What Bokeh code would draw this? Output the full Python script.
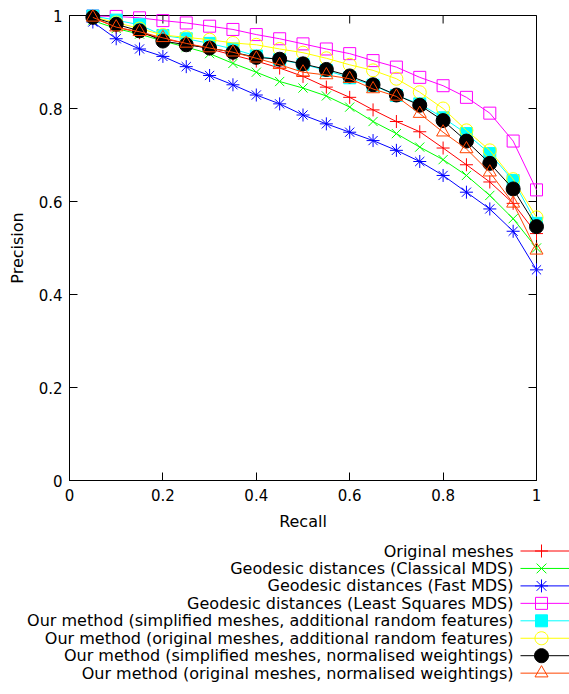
import math
from bokeh.plotting import figure
from bokeh.models import Range1d, FixedTicker, LinearAxis
from bokeh.core.properties import value
from bokeh.embed import file_html
from bokeh.resources import INLINE

# ---------------- data ----------------
recall = [0.05, 0.10, 0.15, 0.20, 0.25, 0.30, 0.35, 0.40, 0.45, 0.50,
          0.55, 0.60, 0.65, 0.70, 0.75, 0.80, 0.85, 0.90, 0.95, 1.00]

original_meshes = [0.995, 0.975, 0.963, 0.950, 0.940, 0.928, 0.915, 0.902, 0.887, 0.869,
                   0.846, 0.824, 0.797, 0.772, 0.750, 0.715, 0.679, 0.642, 0.596, 0.531]
classical_mds = [0.989, 0.972, 0.960, 0.945, 0.932, 0.918, 0.897, 0.878, 0.858, 0.844,
                 0.827, 0.803, 0.772, 0.746, 0.717, 0.690, 0.656, 0.613, 0.563, 0.500]
fast_mds = [0.986, 0.950, 0.928, 0.912, 0.890, 0.871, 0.851, 0.829, 0.810, 0.786,
            0.767, 0.749, 0.731, 0.710, 0.686, 0.656, 0.620, 0.584, 0.536, 0.453]
least_squares_mds = [0.999, 0.998, 0.995, 0.989, 0.984, 0.977, 0.970, 0.959, 0.950, 0.939,
                     0.928, 0.918, 0.903, 0.889, 0.867, 0.849, 0.824, 0.790, 0.730, 0.625]
simp_random = [0.999, 0.990, 0.980, 0.957, 0.950, 0.940, 0.928, 0.913, 0.905, 0.895,
               0.882, 0.866, 0.850, 0.828, 0.810, 0.780, 0.746, 0.703, 0.645, 0.553]
orig_random = [0.997, 0.985, 0.972, 0.958, 0.953, 0.948, 0.941, 0.937, 0.928, 0.920,
               0.908, 0.894, 0.882, 0.864, 0.835, 0.800, 0.753, 0.710, 0.648, 0.566]
simp_norm = [0.996, 0.981, 0.967, 0.945, 0.937, 0.930, 0.921, 0.910, 0.906, 0.896,
             0.884, 0.870, 0.851, 0.829, 0.807, 0.774, 0.730, 0.682, 0.627, 0.546]
orig_norm = [0.996, 0.975, 0.965, 0.952, 0.940, 0.930, 0.921, 0.908, 0.894, 0.878,
             0.872, 0.864, 0.842, 0.826, 0.789, 0.749, 0.713, 0.663, 0.596, 0.495]

series_labels = [
    "Original meshes",
    "Geodesic distances (Classical MDS)",
    "Geodesic distances (Fast MDS)",
    "Geodesic distances (Least Squares MDS)",
    "Our method (simplified meshes, additional random features)",
    "Our method (original meshes, additional random features)",
    "Our method (simplified meshes, normalised weightings)",
    "Our method (original meshes, normalised weightings)",
]
series_values = [original_meshes, classical_mds, fast_mds, least_squares_mds,
                 simp_random, orig_random, simp_norm, orig_norm]

tick_values = [0, 0.2, 0.4, 0.6, 0.8, 1.0]
tick_labels = ["0", "0.2", "0.4", "0.6", "0.8", "1"]
axis_min, axis_max = 0, 1

x_label = "Recall"
y_label = "Precision"

# ---------------- styles / layout ----------------
FONT = "DejaVu Sans"
FS_TICK = "15px"
FS_TEXT = "16px"
colors = ["#ff0000", "#00ff00", "#0000ff", "#ff00ff", "#00ffff", "#ffff00", "#000000", "#ff4500"]
# (marker list, size, filled)
markers = [
    (["cross"], 13, False),
    (["x"], 13, False),
    (["cross", "x"], 13, False),
    (["square"], 12, False),
    (["square"], 12, True),
    (["circle"], 13, False),
    (["circle"], 14, True),
    (["triangle"], 13, False),
]

W, H = 569, 694
B_LEFT, B_RIGHT, B_TOP, B_BOTTOM = 69, 33, 15, 214

p = figure(width=W, height=H, output_backend="svg", toolbar_location=None,
           x_range=Range1d(axis_min, axis_max), y_range=Range1d(axis_min, axis_max),
           min_border_left=B_LEFT, min_border_right=B_RIGHT,
           min_border_top=B_TOP, min_border_bottom=B_BOTTOM,
           x_axis_location=None, y_axis_location=None)
p.xgrid.visible = False
p.ygrid.visible = False
p.outline_line_color = "black"
p.outline_line_width = 1
p.outline_line_alpha = 1
p.background_fill_color = "white"
p.border_fill_color = "white"

# pixel-space ranges (page coordinates, y downwards) for the key placed below the frame
p.extra_x_ranges = {"px": Range1d(B_LEFT, W - B_RIGHT)}
p.extra_y_ranges = {"py": Range1d(H - B_BOTTOM, B_TOP)}

overrides = {v: l for v, l in zip(tick_values, tick_labels)}


def make_axis(label):
    ax = LinearAxis(ticker=FixedTicker(ticks=tick_values))
    ax.major_tick_in = 8
    ax.major_tick_out = 0
    ax.minor_tick_line_color = None
    ax.major_tick_line_color = "black"
    ax.axis_line_color = "black"
    ax.major_label_overrides = overrides
    ax.major_label_text_font = FONT
    ax.major_label_text_font_size = FS_TICK
    ax.major_label_text_color = "black"
    ax.axis_label = label
    ax.axis_label_text_font = FONT
    ax.axis_label_text_font_size = FS_TEXT
    ax.axis_label_text_font_style = "normal"
    ax.axis_label_text_color = "black"
    return ax


xb = make_axis(x_label)
xb.major_label_standoff = 8
xb.axis_label_standoff = 8
p.add_layout(xb, "below")

yl = make_axis(y_label)
yl.major_label_standoff = 7
yl.axis_label_standoff = 9
p.add_layout(yl, "left")

# mirrored inward ticks on the top and right borders (clipped to the frame -> inward half only)
p.scatter(tick_values, [axis_max] * len(tick_values), marker="dash", angle=1.5708,
          size=16, line_color="black", line_width=1)
p.scatter([axis_max] * len(tick_values), tick_values, marker="dash",
          size=16, line_color="black", line_width=1)

for vals, col, (mks, sz, filled) in zip(series_values, colors, markers):
    r = p.line(recall, vals, line_color=col, line_width=1)
    r.level = "overlay"
    for mk in mks:
        s = p.scatter(recall, vals, marker=mk, size=sz, line_color=col, line_width=1,
                      fill_color=col if filled else None)
        s.level = "overlay"

# ---------------- key below the plot (gnuplot style: text, then sample) ----------------
KEY_TEXT_X, KEY_LINE_X0, KEY_LINE_X1, KEY_MARK_X = 513, 520, 569, 541
KEY_Y0, KEY_DY = 550.5, 17.45
row_y = [KEY_Y0 + KEY_DY * i for i in range(len(series_labels))]

KW = dict(x_range_name="px", y_range_name="py")

t = p.text(x=[KEY_TEXT_X] * len(series_labels), y=row_y, text=series_labels,
           text_font=value(FONT), text_font_size=FS_TEXT, text_align="right",
           text_baseline="middle", text_color="black", **KW)
t.level = "overlay"


def key_symbol(cx, cy, mk, sz, col, filled):
    """Key symbols as pixel-space outlines (scatter glyphs outside the frame get culled)."""
    r = sz / 2.0
    strokes, polys = [], []
    if mk == "cross":
        strokes = [([cx - r, cx + r], [cy, cy]), ([cx, cx], [cy - r, cy + r])]
    elif mk == "x":
        d = r * 0.75
        strokes = [([cx - d, cx + d], [cy - d, cy + d]), ([cx - d, cx + d], [cy + d, cy - d])]
    elif mk == "square":
        polys = [[cx - r, cx + r, cx + r, cx - r], [cy - r, cy - r, cy + r, cy + r]]
    elif mk == "circle":
        n = 32
        polys = [[cx + r * math.cos(2 * math.pi * k / n) for k in range(n)],
                 [cy + r * math.sin(2 * math.pi * k / n) for k in range(n)]]
    elif mk == "triangle":
        h = r * math.sqrt(3)
        a = h / 3
        polys = [[cx - r, cx + r, cx], [cy + a, cy + a, cy + a - h]]
    for xs, ys in strokes:
        g = p.line(xs, ys, line_color=col, line_width=1, **KW)
        g.level = "overlay"
    if polys:
        xs, ys = polys
        if filled:
            g = p.patch(xs, ys, fill_color=col, line_color=col, line_width=1, **KW)
        else:
            g = p.line(xs + xs[:1], ys + ys[:1], line_color=col, line_width=1, **KW)
        g.level = "overlay"


for yy, col, (mks, sz, filled) in zip(row_y, colors, markers):
    ln = p.line([KEY_LINE_X0, KEY_LINE_X1], [yy, yy], line_color=col, line_width=1, **KW)
    ln.level = "overlay"
    for mk in mks:
        key_symbol(KEY_MARK_X, yy, mk, sz, col, filled)

open("out.html", "w").write(file_html(p, INLINE))
